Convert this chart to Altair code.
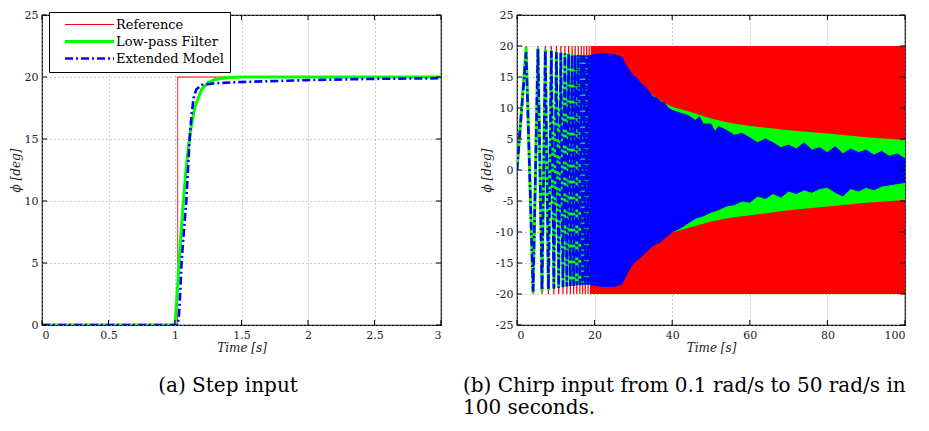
import altair as alt
import pandas as pd

# ---------------- (a) Step input ----------------
series_names = ["Reference", "Low-pass Filter", "Extended Model"]
series_colors = ["#ff0000", "#00ff00", "#0000ff"]

ref_t = [0.0, 1.02, 1.02, 3.0]
ref_v = [0.0, 0.0, 20.0, 20.0]

lp_t = [0.0, 1.0, 1.02, 1.04, 1.06, 1.08, 1.10, 1.12, 1.15, 1.20, 1.25, 1.30, 1.40, 1.50, 2.0, 3.0]
lp_v = [0.0, 0.0, 3.2, 6.6, 9.6, 12.2, 14.3, 15.9, 17.6, 19.0, 19.55, 19.8, 19.95, 20.0, 20.0, 20.0]

ext_t = [0.0, 1.02, 1.03, 1.04, 1.05, 1.07, 1.085, 1.10, 1.11, 1.125, 1.14, 1.16, 1.20, 1.30, 1.50, 2.0, 2.5, 3.0]
ext_v = [0.0, 0.0, 0.8, 2.8, 5.2, 8.0, 10.0, 13.0, 15.0, 17.0, 18.3, 19.0, 19.35, 19.5, 19.6, 19.75, 19.85, 19.9]

step_x_ticks = [0, 0.5, 1, 1.5, 2, 2.5, 3]
step_y_ticks = [0, 5, 10, 15, 20, 25]

# ---------------- (b) Chirp input ----------------
chirp_ext_t = [0.0, 2.35, 4.15, 5.4, 6.45, 7.3, 8.1, 8.85, 9.5, 10.15, 10.75, 11.3, 11.85,
               12.35, 12.85, 13.3, 13.75, 14.2, 14.6, 15.0, 15.4, 15.8, 16.2, 16.55, 16.9,
               17.25, 17.6, 17.95, 18.3, 18.6, 18.95, 19.25]
red_ext_v = [0, 20, -20, 20, -20, 20, -20, 20, -20, 20, -20, 20, -20, 20, -20, 20, -20,
             20, -20, 20, -20, 20, -20, 20, -20, 20, -20, 20, -20, 20, -20, 20]
green_ext_v = [0, 19.8, -19.8, 19.7, -19.6, 19.5, -19.4, 19.3, -19.2, 19.1, -19.0, 19.0, -18.9,
               18.9, -18.8, 18.8, -18.7, 18.7, -18.7, 18.6, -18.6, 18.6, -18.6, 18.5, -18.5,
               18.5, -18.5, 18.5, -18.5, 18.5, -18.5, 18.5]
blue_ext_v = [0, 19.0, -19.6, 19.5, -19.4, 19.3, -19.3, 19.2, -19.1, 19.0, -19.0, 18.9, -18.9,
              18.8, -18.8, 18.8, -18.7, 18.7, -18.7, 18.6, -18.6, 18.6, -18.6, 18.5, -18.5,
              18.5, -18.5, 18.5, -18.5, 18.5, -18.5, 18.5]

red_band_t = [19.0, 100.0]
red_band_hi = [20.0, 20.0]
red_band_lo = [-20.0, -20.0]

green_band_t = [19, 25, 30, 33, 36, 38, 40, 45, 50, 55, 60, 70, 80, 90, 100]
green_band_hi = [18.6, 17.5, 14.8, 13.0, 11.6, 10.8, 10.2, 9.3, 8.3, 7.6, 7.1, 6.4, 5.9, 5.3, 4.85]
green_band_lo = [-18.6, -17.5, -14.8, -13.0, -11.6, -10.8, -10.1, -9.2, -8.3, -7.7, -7.3, -6.5, -5.9, -5.3, -4.85]

blue_hi_t = [19, 22, 25, 27, 28, 29, 30, 31, 32, 33, 35, 36, 37, 38, 39, 40, 42, 44, 46, 47, 48,
             50, 51, 52, 54, 56, 58, 60, 62, 64, 66, 68, 70, 72, 74, 76, 78, 80, 82, 84, 86, 88,
             90, 92, 94, 96, 98, 100]
blue_hi_v = [18.5, 18.8, 18.6, 18.2, 17.0, 16.0, 15.2, 14.8, 13.8, 13.5, 11.8, 11.6, 11.0, 10.8,
             10.0, 9.6, 9.2, 8.8, 8.0, 8.6, 7.4, 7.4, 6.2, 7.0, 6.4, 5.6, 5.9, 5.2, 4.4, 5.0, 4.4,
             3.6, 4.0, 3.4, 4.4, 3.2, 3.6, 2.8, 3.8, 2.6, 3.4, 2.8, 3.2, 2.4, 3.0, 2.2, 2.6, 1.8]
blue_lo_t = [19, 22, 25, 27, 28, 29, 30, 32, 33, 35, 37, 38, 40, 42, 44, 46, 48, 50, 52, 54, 56,
             58, 60, 62, 64, 66, 68, 70, 72, 74, 76, 78, 80, 82, 84, 86, 88, 90, 92, 94, 96, 98, 100]
blue_lo_v = [-18.5, -18.8, -18.8, -18.4, -17.2, -16.0, -15.0, -14.0, -13.4, -12.2, -11.6, -11.0,
             -10.0, -9.4, -8.6, -7.8, -7.4, -6.8, -6.4, -5.8, -5.6, -5.0, -5.2, -4.2, -4.6, -3.8,
             -4.4, -3.4, -3.8, -3.2, -3.6, -3.0, -2.8, -3.6, -4.2, -3.0, -3.4, -2.8, -3.2, -2.6,
             -2.4, -2.2, -2.0]

chirp_x_ticks = [0, 20, 40, 60, 80, 100]
chirp_y_ticks = [-25, -20, -15, -10, -5, 0, 5, 10, 15, 20, 25]

caption_a = "(a)  Step input"
caption_b1 = "(b)  Chirp input from 0.1 rad/s to 50 rad/s in"
caption_b2 = "100 seconds."

SERIF = "DejaVu Serif"
CAP_SIZE = 20
LW, LH = 399, 310
RW, RH = 388, 310
TICK = 5

# ---------------- build tables ----------------
rows = []
for name, ts, vs, w in [("Reference", ref_t, ref_v, 1.0),
                        ("Low-pass Filter", lp_t, lp_v, 3.0),
                        ("Extended Model", ext_t, ext_v, 2.6)]:
    for i, (t, v) in enumerate(zip(ts, vs)):
        rows.append({"series": name, "t": t, "v": v, "w": w, "i": i})
step_df = pd.DataFrame(rows)


def line_df(ts, vs):
    return pd.DataFrame({"t": ts, "v": vs, "i": list(range(len(ts)))})


def band_df(ts, lo, hi):
    return pd.DataFrame({"t": ts, "lo": lo, "hi": hi})


def caption(text, x, y, align):
    return alt.Chart(pd.DataFrame({"c": [text]})).mark_text(
        font=SERIF, fontSize=CAP_SIZE, align=align, baseline="middle", color="black"
    ).encode(text="c:N", x=alt.value(x), y=alt.value(y))


def frame_ticks(xticks, yticks, xenc, yenc, w, h):
    """Short inward tick marks on the four frame edges, at the axis tick values."""
    xdf = pd.DataFrame({"t": xticks})
    ydf = pd.DataFrame({"v": yticks})
    out = []
    for y0, y1 in ((0, TICK), (h - TICK, h)):
        out.append(alt.Chart(xdf).mark_rule(color="black", strokeWidth=1)
                   .encode(x=xenc, y=alt.value(y0), y2=alt.value(y1)))
    for x0, x1 in ((0, TICK), (w - TICK, w)):
        out.append(alt.Chart(ydf).mark_rule(color="black", strokeWidth=1)
                   .encode(y=yenc, x=alt.value(x0), x2=alt.value(x1)))
    return out


# ---------------- left chart ----------------
xa = alt.X("t:Q", scale=alt.Scale(domain=[0, 3], nice=False),
           axis=alt.Axis(values=step_x_ticks, format="~g", title="Time [s]"))
ya = alt.Y("v:Q", scale=alt.Scale(domain=[0, 25], nice=False),
           axis=alt.Axis(values=step_y_ticks, title="ϕ [deg]"))

legend = alt.Legend(
    title=None, orient="none", legendX=7, legendY=-3,
    strokeColor="black", fillColor="white", padding=6, cornerRadius=0,
    symbolType="stroke", symbolSize=2400, labelFont=SERIF, labelFontSize=13,
    labelColor="black", labelOffset=20, symbolOffset=28, rowPadding=3,
    symbolStrokeWidth={"expr": "datum.value === 'Reference' ? 1 : (datum.value === 'Low-pass Filter' ? 3 : 2.6)"},
)

step_lines = alt.Chart(step_df).mark_line(clip=True).encode(
    x=xa, y=ya,
    color=alt.Color("series:N", scale=alt.Scale(domain=series_names, range=series_colors), legend=legend),
    strokeDash=alt.StrokeDash("series:N", scale=alt.Scale(domain=series_names,
                                                          range=[[1, 0], [1, 0], [8, 3, 2, 3]]), legend=legend),
    strokeWidth=alt.StrokeWidth("w:Q", scale=None, legend=None),
    order=alt.Order("i:Q"),
)

left = alt.layer(
    step_lines,
    *frame_ticks(step_x_ticks, step_y_ticks, xa, ya, LW, LH),
    caption(caption_a, 186, 371, "center"),
).properties(width=LW, height=LH)

# ---------------- right chart ----------------
yscale = alt.Scale(domain=[-25, 25], nice=False)
xb = alt.X("t:Q", scale=alt.Scale(domain=[0, 100], nice=False),
           axis=alt.Axis(values=chirp_x_ticks, title="Time [s]"))
yb_axis = alt.Axis(values=chirp_y_ticks, title="ϕ [deg]", labelExpr="'' + datum.value")
yb = alt.Y("v:Q", scale=yscale, axis=yb_axis)

red_band = alt.Chart(band_df(red_band_t, red_band_lo, red_band_hi)).mark_area(
    color="#ff0000", opacity=1, clip=True
).encode(x=xb, y=alt.Y("lo:Q", scale=yscale, axis=yb_axis), y2="hi:Q")

red_line = alt.Chart(line_df(chirp_ext_t, red_ext_v)).mark_line(
    color="#ff0000", strokeWidth=1.2, clip=True
).encode(x=xb, y=yb, order="i:Q")

green_band = alt.Chart(band_df(green_band_t, green_band_lo, green_band_hi)).mark_area(
    color="#00ff00", opacity=1, clip=True
).encode(x=xb, y=alt.Y("lo:Q", scale=yscale, axis=yb_axis), y2="hi:Q")

green_line = alt.Chart(line_df(chirp_ext_t, green_ext_v)).mark_line(
    color="#00ff00", strokeWidth=3, clip=True
).encode(x=xb, y=yb, order="i:Q")

blue_poly = pd.DataFrame({
    "t": blue_hi_t + blue_lo_t[::-1],
    "v": blue_hi_v + blue_lo_v[::-1],
})
blue_poly["i"] = range(len(blue_poly))
blue_band = alt.Chart(blue_poly).mark_line(
    color="#0000ff", fill="#0000ff", strokeWidth=1, clip=True, interpolate="linear-closed"
).encode(x=xb, y=yb, order="i:Q")

blue_line = alt.Chart(line_df(chirp_ext_t, blue_ext_v)).mark_line(
    color="#0000ff", strokeWidth=2.6, strokeDash=[8, 3, 2, 3], clip=True
).encode(x=xb, y=yb, order="i:Q")

right = alt.layer(
    red_band, red_line, green_band, green_line, blue_band, blue_line,
    *frame_ticks(chirp_x_ticks, chirp_y_ticks, xb, yb, RW, RH),
    caption(caption_b1, -54, 371, "left"), caption(caption_b2, -54, 393, "left"),
).properties(width=RW, height=RH)

chart = alt.hconcat(left, right, spacing=19).properties(
    padding={"left": 0, "top": 0, "right": 0, "bottom": 0}
).configure_axis(
    labelFont=SERIF, labelFontSize=11, labelColor="#222",
    titleFont=SERIF, titleFontSize=12, titleFontStyle="italic", titleFontWeight="normal",
    titleColor="#222", grid=True, gridColor="#9a9a9a", gridDash=[1, 3], gridWidth=1,
    domain=False, ticks=False, labelPadding=4, titlePadding=2,
).configure_view(stroke="black", strokeWidth=1.2)

chart.save("out.html", embed_options={"renderer": "svg", "actions": False})
